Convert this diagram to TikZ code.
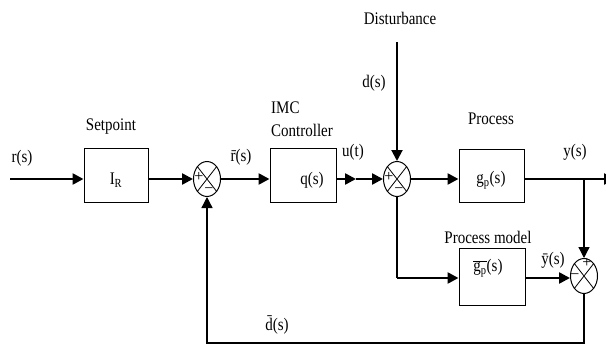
\documentclass[tikz,border=0pt]{standalone}
\usepackage{fontspec}
\setmainfont{Liberation Serif}
\usetikzlibrary{arrows.meta,shapes.geometric}
\newcommand\stx[1]{\scalebox{1}[1.18]{#1}}
\begin{document}
\begin{tikzpicture}[x=1pt,y=-1pt,
  blk/.style={draw, line width=1pt, inner sep=0pt},
  sumn/.style={draw, ellipse, line width=1pt, minimum width=27pt, minimum height=35pt, inner sep=0pt},
  lbl/.style={font=\fontsize{15}{17}\selectfont, inner sep=0pt},
  sgn/.style={font=\fontsize{16}{16}\selectfont, inner sep=0pt},
  mainln/.style={line width=2.5pt},
  fbln/.style={line width=1.3pt},
  arr/.style={-{Triangle[length=11pt,width=11pt]}},
]
\useasboundingbox (0,0) rectangle (606,356);
\fill[white] (0,0) rectangle (606,356);
\clip (0,0) rectangle (606,356);

% blocks
\node[blk, minimum width=64pt, minimum height=54pt] (sp) at (116,175) {};
\node[blk, minimum width=66pt, minimum height=54pt] (ctrl) at (303,175) {};
\node[blk, minimum width=65pt, minimum height=53pt] (proc) at (491.5,175.5) {};
\node[blk, minimum width=66pt, minimum height=57pt] (mdl) at (492,276.5) {};

% summing junctions
\node[sumn] (s1) at (207,179) {};
\node[sumn] (s2) at (397,179) {};
\node[sumn] (s3) at (584,276) {};
\foreach \n in {s1,s2,s3} {
  \draw[line width=0.8pt] (\n.north west) -- (\n.south east) (\n.north east) -- (\n.south west);
}
\node[sgn] (s1p) at (199,177) {+};
\node[sgn] (s1m) at (209,191) {−};
\node[sgn] (s2p) at (389,177) {+};
\node[sgn] (s2m) at (399,191) {−};
\node[sgn] (s3p) at (587,263) {+};
\node[sgn] (s3m) at (575,277) {−};

% block texts
\node[lbl] (spt) at (116,180) {\stx{I\textsubscript{R}}};
\node[lbl] (ctrlt) at (312,180) {\stx{q(s)}};
\node[lbl] (proct) at (491,180) {\stx{g\textsubscript{p}(s)}};
\node[lbl] (mdlt) at (488,268) {\stx{$\overline{\mbox{g\textsubscript{p}}}$(s)}};

% labels
\node[lbl] (rl) at (22,158) {\stx{r(s)}};
\node[lbl] (spl) at (111,127) {\stx{Setpoint}};
\node[lbl] (rbl) at (241,157) {\stx{\=r(s)}};
\node[lbl, anchor=west] (imcl) at (271,108) {\stx{IMC}};
\node[lbl, anchor=west] (ctl) at (271,130) {\stx{Controller}};
\node[lbl] (ul) at (353,152) {\stx{u(t)}};
\node[lbl] (distl) at (400,18) {\stx{Disturbance}};
\node[lbl] (dl) at (374,83) {\stx{d(s)}};
\node[lbl] (procl) at (491,119) {\stx{Process}};
\node[lbl] (yl) at (575,152) {\stx{y(s)}};
\node[lbl] (mdll) at (488,237) {\stx{Process model}};
\node[lbl] (ybl) at (553,260) {\stx{\=y(s)}};
\node[lbl] (dbl) at (277,325) {\stx{\=d(s)}};

% coordinates
\coordinate (in) at (10,179);
\coordinate (uarr) at (356,179);
\coordinate (br) at (584,179);
\coordinate (out) at (615,179);
\coordinate (mc) at (397,278);
\coordinate (fbc) at (207,343);
\coordinate (dtop) at (397,42);

% connectors
\draw[mainln,arr] (in) -- (sp.west |- in);
\draw[mainln,arr] (sp.east |- s1) -- (s1.west);
\draw[mainln,arr] (s1.east) -- (ctrl.west |- s1);
\draw[mainln,arr] (ctrl.east |- s2) -- (uarr);
\draw[mainln,arr] (uarr) -- (s2.west);
\draw[mainln,arr] (s2.east) -- (proc.west |- s2);
\draw[mainln,arr] (proc.east |- s2) -- (out);
\draw[fbln,arr] (br) -- (s3.north);
\draw[line width=2pt,arr] (dtop) -- (s2.north);
\draw[fbln] (s2.south) -- (mc);
\draw[mainln,arr] (mc) -- (mdl.west |- mc);
\draw[mainln,arr] (mdl.east |- mc) -- (s3.west |- mc);
\draw[fbln,arr] (s3.south) |- (fbc) -- (s1.south);
\end{tikzpicture}
\end{document}
